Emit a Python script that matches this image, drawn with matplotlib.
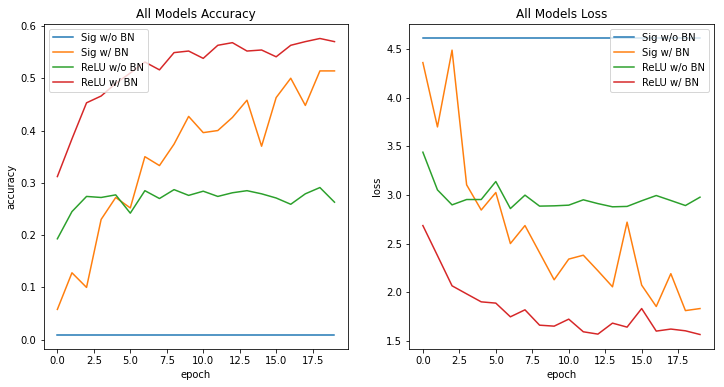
import numpy as np
import matplotlib
matplotlib.use("Agg")
import matplotlib.pyplot as plt

epochs = list(range(20))
labels = ["Sig w/o BN", "Sig w/ BN", "ReLU w/o BN", "ReLU w/ BN"]

# accuracy per epoch
acc_sig = [0.01] * 20
acc_sig_bn = [0.058, 0.128, 0.100, 0.230, 0.272, 0.252, 0.350, 0.333, 0.374, 0.427,
              0.396, 0.400, 0.425, 0.458, 0.370, 0.463, 0.500, 0.448, 0.514, 0.514]
acc_relu = [0.193, 0.245, 0.274, 0.272, 0.277, 0.242, 0.285, 0.270, 0.287, 0.276,
            0.284, 0.274, 0.281, 0.285, 0.279, 0.271, 0.259, 0.279, 0.291, 0.263]
acc_relu_bn = [0.312, 0.384, 0.453, 0.466, 0.490, 0.510, 0.531, 0.516, 0.549, 0.552,
               0.538, 0.563, 0.568, 0.552, 0.554, 0.541, 0.563, 0.570, 0.576, 0.570]

# loss per epoch
loss_sig = [4.61] * 20
loss_sig_bn = [4.362, 3.700, 4.490, 3.104, 2.845, 3.025, 2.500, 2.685, 2.406, 2.127,
               2.340, 2.380, 2.220, 2.055, 2.720, 2.072, 1.852, 2.190, 1.810, 1.831]
loss_relu = [3.440, 3.052, 2.898, 2.953, 2.953, 3.138, 2.860, 2.998, 2.885, 2.888,
             2.895, 2.950, 2.911, 2.878, 2.882, 2.940, 2.994, 2.943, 2.891, 2.977]
loss_relu_bn = [2.685, 2.376, 2.065, 1.982, 1.900, 1.887, 1.746, 1.818, 1.660, 1.650,
                1.722, 1.592, 1.568, 1.681, 1.640, 1.831, 1.599, 1.620, 1.602, 1.564]

fig, (ax1, ax2) = plt.subplots(1, 2, figsize=(724 / 72, 387 / 72), dpi=72)
fig.subplots_adjust(left=0.0601, right=0.986, bottom=0.0974, top=0.9388, wspace=0.199)

for series, lab in zip([acc_sig, acc_sig_bn, acc_relu, acc_relu_bn], labels):
    ax1.plot(epochs, series, label=lab)
ax1.set_title("All Models Accuracy")
ax1.set_xlabel("epoch")
ax1.set_ylabel("accuracy")
ax1.legend(loc="upper left")

for series, lab in zip([loss_sig, loss_sig_bn, loss_relu, loss_relu_bn], labels):
    ax2.plot(epochs, series, label=lab)
ax2.set_title("All Models Loss")
ax2.set_xlabel("epoch")
ax2.set_ylabel("loss")
ax2.legend(loc="upper right")

fig.savefig("out.png", dpi=72)
